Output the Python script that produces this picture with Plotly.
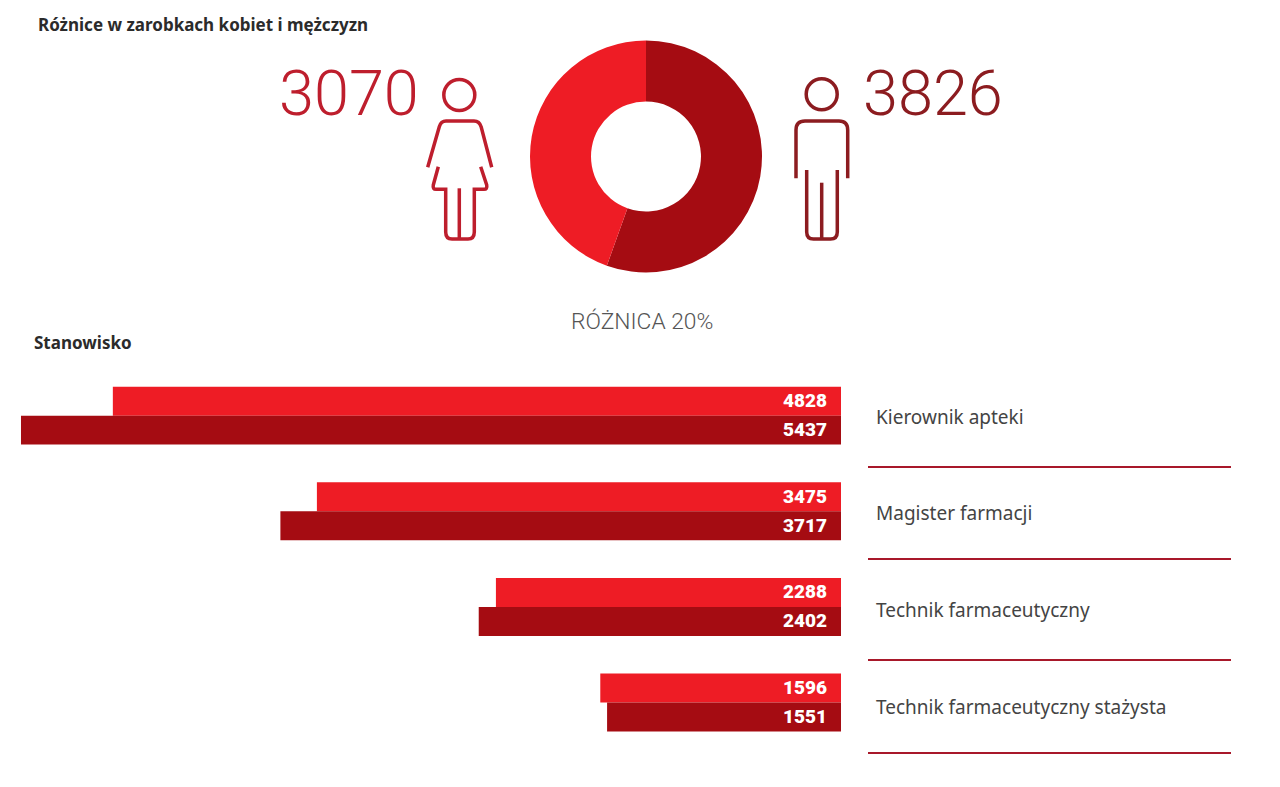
import plotly.graph_objects as go

W, H = 1280, 787

# --- data ---
title_main = "Różnice w zarobkach kobiet i mężczyzn"
title_positions = "Stanowisko"
diff_label = "RÓŻNICA 20%"
avg_women = 3070
avg_men = 3826
positions = ["Kierownik apteki", "Magister farmacji", "Technik farmaceutyczny",
             "Technik farmaceutyczny stażysta"]
women = [4828, 3475, 2288, 1596]
men = [5437, 3717, 2402, 1551]

# --- style ---
BRIGHT = "#EE1C25"
DARK = "#A50C12"
W_ICON = "#BE1E2D"
M_ICON = "#8C1C20"
RULE = "#A8182A"
LABEL_FONT = "Noto Sans"


def px(x):
    return x / W


def py(y):
    return 1 - y / H


def path(cmds):
    """cmds: list of (letter, x, y, ...) in page pixels, converted to paper coordinates."""
    out = []
    for c in cmds:
        letter, nums = c[0], c[1:]
        pts = []
        for i in range(0, len(nums), 2):
            pts.append(f"{px(nums[i]):.5f},{py(nums[i + 1]):.5f}")
        out.append(letter + " ".join(pts))
    return " ".join(out)


def line_shape(cmds, color, width=3.5):
    return dict(type="path", xref="paper", yref="paper", path=path(cmds),
                line=dict(color=color, width=width), fillcolor="rgba(0,0,0,0)")


def head(cx, cy, r, color):
    return dict(type="circle", xref="paper", yref="paper",
                x0=px(cx - r), x1=px(cx + r), y0=py(cy + r), y1=py(cy - r),
                line=dict(color=color, width=3.5), fillcolor="rgba(0,0,0,0)")


fig = go.Figure()

# doughnut
fig.add_trace(go.Pie(
    values=[avg_men, avg_women], labels=["Mężczyźni", "Kobiety"],
    marker=dict(colors=[DARK, BRIGHT], line=dict(width=0)),
    hole=0.474, sort=False, direction="clockwise", rotation=0,
    textinfo="none", showlegend=False, hoverinfo="label+value",
    domain=dict(x=[px(530), px(762)], y=[py(272.5), py(40.5)]),
))

# bars
fig.add_trace(go.Bar(y=positions, x=women, orientation="h", name="Kobiety",
                     marker=dict(color=BRIGHT, line=dict(width=0)), showlegend=False))
fig.add_trace(go.Bar(y=positions, x=men, orientation="h", name="Mężczyźni",
                     marker=dict(color=DARK, line=dict(width=0)), showlegend=False))

annotations = []


def text(x, y, s, size, color, family, anchor="left", weight=None):
    f = dict(size=size, color=color, family=family)
    if weight:
        f["weight"] = weight
    annotations.append(dict(x=px(x), y=py(y), xref="paper", yref="paper", text=s,
                            showarrow=False, xanchor=anchor, yanchor="middle",
                            font=f, borderpad=0))


text(37, 25, title_main, 17, "#2b2b2b", "Noto Sans", weight=700)
text(33, 343, title_positions, 17, "#2b2b2b", "Noto Sans", weight=700)
text(642, 321, diff_label, 22.8, "#555555", "Roboto", anchor="center", weight=300)
text(348.5, 93, str(avg_women), 63, W_ICON, "Roboto", anchor="center", weight=300)
text(932.5, 93, str(avg_men), 63, M_ICON, "Roboto", anchor="center", weight=300)

# category labels, centred on their own rows as in the reference
for cat, y in zip(positions, (417, 513, 610, 707)):
    text(875, y, cat, 19, "#444444", LABEL_FONT)

# value labels on bars
for cat, a, b in zip(positions, women, men):
    for val, shift in ((a, 15), (b, -14)):
        annotations.append(dict(x=0, y=cat, xref="x", yref="y", text=str(val),
                                showarrow=False, xanchor="right", yanchor="middle",
                                xshift=-12, yshift=shift,
                                font=dict(size=19, color="white", family="Roboto", weight=900)))

shapes = [
    head(459.3, 95, 15.5, W_ICON),
    line_shape([("M", 427.7, 167.3), ("L", 439.3, 126.7), ("Q", 441, 121, 446, 121),
                ("L", 474, 121), ("Q", 479.5, 121, 481.2, 127), ("L", 491.7, 167.3)], W_ICON),
    line_shape([("M", 438.3, 166.7), ("L", 433.3, 185), ("Q", 432.5, 189.3, 436, 189.3),
                ("L", 445.7, 189.3), ("L", 445.7, 232), ("Q", 445.7, 239, 452, 239),
                ("L", 468, 239), ("Q", 474.3, 239, 474.3, 232), ("L", 474.3, 189.3),
                ("L", 484, 189.3), ("Q", 487.5, 189.3, 486.7, 185), ("L", 480.7, 166.7)], W_ICON),
    line_shape([("M", 459.3, 188.3), ("L", 459.3, 239)], W_ICON),
    head(821.7, 94.3, 15.5, M_ICON),
    line_shape([("M", 796, 178.3), ("L", 796, 130), ("Q", 796, 121, 805, 121),
                ("L", 839, 121), ("Q", 847.7, 121, 847.7, 130), ("L", 847.7, 178.3)], M_ICON),
    line_shape([("M", 806.7, 170), ("L", 806.7, 232), ("Q", 806.7, 239, 813.5, 239),
                ("L", 830.5, 239), ("Q", 837.3, 239, 837.3, 232), ("L", 837.3, 170)], M_ICON),
    line_shape([("M", 821.7, 182.7), ("L", 821.7, 239)], M_ICON),
]
for y in (467, 559, 660, 753):
    shapes.append(dict(type="line", xref="paper", yref="paper",
                       x0=px(868), x1=px(1231), y0=py(y), y1=py(y),
                       line=dict(color=RULE, width=2)))

fig.update_layout(
    width=W, height=H, margin=dict(l=0, r=0, t=0, b=0, pad=0, autoexpand=False),
    paper_bgcolor="white", plot_bgcolor="rgba(0,0,0,0)",
    barmode="group", bargap=0.394, bargroupgap=0,
    shapes=shapes, annotations=annotations,
    xaxis=dict(domain=[0, 1], range=[841 / 0.15082, (841 - W) / 0.15082],
               visible=False, fixedrange=True),
    yaxis=dict(domain=[py(750.4), py(367.8)], type="category", autorange=False,
               range=[3.5, -0.5], categoryorder="array", categoryarray=positions,
               showticklabels=False, showgrid=False, zeroline=False, showline=False, ticks="",
               fixedrange=True),
    font=dict(family=LABEL_FONT),
)

fig.write_html("out.html", post_script="document.body.style.margin='0';",
               config=dict(displayModeBar=False))
